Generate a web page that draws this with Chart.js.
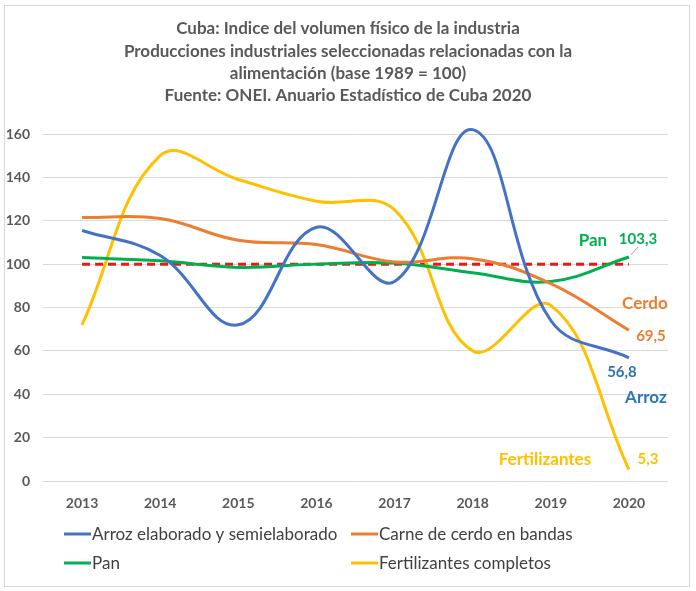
<!DOCTYPE html>
<html>
<head>
<meta charset="utf-8">
<script src="https://cdn.jsdelivr.net/npm/chart.js@4.4.1/dist/chart.umd.min.js"></script>
<style>
  html, body { margin: 0; padding: 0; background: #fff; }
  #wrap { width: 696px; height: 591px; position: relative; }
</style>
</head>
<body>
<div id="wrap"><canvas id="grafico"></canvas></div>
<script>
// años del eje X
const anios = ["2013", "2014", "2015", "2016", "2017", "2018", "2019", "2020"];

// series (base 1989 = 100)
const arroz = [115.5, 104, 72, 117, 92, 162, 74, 56.8];
const cerdo = [121.5, 121, 111, 109, 101, 102.5, 91, 69.5];
const pan = [103, 101.5, 98.5, 100, 100.5, 96, 92, 103.3];
const fertilizantes = [72, 150, 139, 129, 125, 60, 81, 5.3];
const base = [100, 100, 100, 100, 100, 100, 100, 100];

const nombres = ["Arroz elaborado y semielaborado", "Carne de cerdo en bandas", "Pan", "Fertilizantes completos"];
const nombresCortos = ["Arroz", "Cerdo", "Pan", "Fertilizantes"];
const colores = ["#4472C4", "#ED7D31", "#00B050", "#FFC000"];
const coloresTexto = ["#2E75B6", "#ED7D31", "#00B050", "#FFC000"];

const ticksY = [0, 20, 40, 60, 80, 100, 120, 140, 160];

const titulo = [
  "Cuba: Indice del volumen físico de la industria",
  "Producciones industriales seleccionadas relacionadas con la",
  "alimentación (base 1989 = 100)",
  "Fuente: ONEI. Anuario Estadístico de Cuba 2020"
];

const fuente = "Lato, 'Open Sans', sans-serif";
const gris = "#595959";

function fmt(v) {
  return String(v).replace(".", ",");
}

// marco, título, leyenda y etiquetas finales
const extras = {
  id: "extras",
  beforeDraw(chart) {
    const ctx = chart.ctx;
    ctx.save();
    ctx.fillStyle = "#fff";
    ctx.fillRect(0, 0, chart.width, chart.height);
    ctx.strokeStyle = "#d9d9d9";
    ctx.lineWidth = 1;
    ctx.strokeRect(4.5, 5.5, 685, 581);
    ctx.restore();
  },
  afterDraw(chart) {
    const ctx = chart.ctx;
    ctx.save();

    // título
    ctx.fillStyle = gris;
    ctx.font = "bold 17px " + fuente;
    ctx.textAlign = "center";
    ctx.textBaseline = "middle";
    titulo.forEach((t, i) => ctx.fillText(t, 348, 29 + i * 22.2));

    // leyenda 2x2
    ctx.font = "17px " + fuente;
    ctx.textAlign = "left";
    const colX = [64, 351];
    const filaY = [534, 563];
    nombres.forEach((n, i) => {
      const x = colX[i % 2];
      const y = filaY[Math.floor(i / 2)];
      ctx.strokeStyle = colores[i];
      ctx.lineWidth = 3;
      ctx.beginPath();
      ctx.moveTo(x, y);
      ctx.lineTo(x + 27, y);
      ctx.stroke();
      ctx.fillStyle = "#404040";
      ctx.fillText(n, x + 28, y + 1);
    });

    // etiquetas al final de cada serie
    const desp = [
      { v: [-7, 14], n: [17, 40] },
      { v: [22, 6], n: [16, -27] },
      { v: [9, -18], n: [-36, -16] },
      { v: [19, -10], n: [-84, -10] }
    ];
    ctx.textAlign = "center";
    [0, 1, 2, 3].forEach(i => {
      const meta = chart.getDatasetMeta(i);
      const p = meta.data[meta.data.length - 1];
      const ds = chart.data.datasets[i];
      const val = ds.data[ds.data.length - 1];
      ctx.fillStyle = coloresTexto[i];
      ctx.font = "bold 15px " + fuente;
      ctx.fillText(fmt(val), p.x + desp[i].v[0], p.y + desp[i].v[1]);
      ctx.font = "bold 17px " + fuente;
      ctx.fillText(nombresCortos[i], p.x + desp[i].n[0], p.y + desp[i].n[1]);
      if (i === 2) {
        ctx.strokeStyle = "#a6a6a6";
        ctx.lineWidth = 1;
        ctx.beginPath();
        ctx.moveTo(p.x + 2, p.y - 2);
        ctx.lineTo(p.x + 9, p.y - 10);
        ctx.stroke();
      }
    });
    ctx.restore();
  }
};

const serie = (label, data, color) => ({
  label: label,
  data: data,
  borderColor: color,
  backgroundColor: color,
  borderWidth: 3,
  pointRadius: 0,
  tension: 0.4,
  fill: false
});

const datasets = [
  serie(nombres[0], arroz, colores[0]),
  serie(nombres[1], cerdo, colores[1]),
  serie(nombres[2], pan, colores[2]),
  serie(nombres[3], fertilizantes, colores[3]),
  {
    label: "Base 100",
    data: base,
    borderColor: "#E31A1A",
    borderWidth: 3,
    borderDash: [8, 5],
    pointRadius: 0,
    tension: 0,
    fill: false
  }
];

new Chart(document.getElementById("grafico"), {
  type: "line",
  data: { labels: anios, datasets: datasets },
  plugins: [extras],
  options: {
    responsive: true,
    maintainAspectRatio: false,
    animation: false,
    devicePixelRatio: 1,
    clip: false,
    layout: { padding: { top: 134, right: 28, bottom: 78, left: 0 } },
    plugins: {
      legend: { display: false },
      title: { display: false },
      tooltip: { enabled: false }
    },
    scales: {
      x: {
        offset: true,
        grid: { display: false, drawTicks: false },
        border: { display: false },
        ticks: {
          color: gris,
          font: { family: fuente, size: 14, weight: "bold" },
          padding: 14,
          maxRotation: 0,
          autoSkip: false
        },
        afterFit(s) { s.height = 32; }
      },
      y: {
        min: 0,
        max: 160,
        afterBuildTicks(s) { s.ticks = ticksY.map(v => ({ value: v })); },
        grid: { color: "#d9d9d9", lineWidth: 1, drawTicks: false },
        border: { display: false },
        ticks: {
          color: gris,
          font: { family: fuente, size: 14, weight: "bold" },
          padding: 13
        },
        afterFit(s) { s.width = 43; }
      }
    }
  }
});
</script>
</body>
</html>
